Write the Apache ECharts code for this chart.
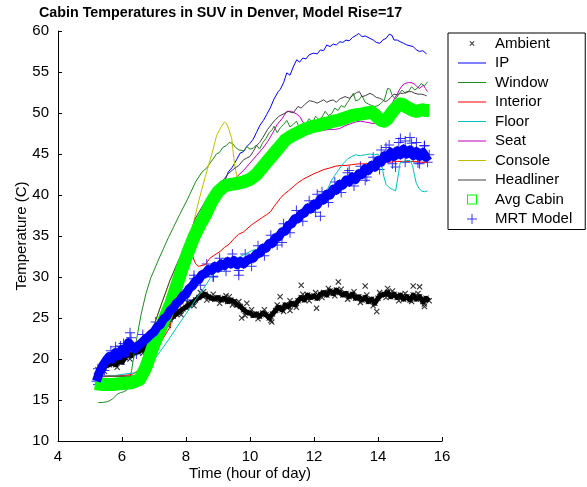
<!DOCTYPE html>
<html><head><meta charset="utf-8">
<script src="https://cdn.jsdelivr.net/npm/echarts@6/dist/echarts.min.js"></script>
<style>html,body{margin:0;padding:0;background:#fff}#c{width:587px;height:487px}</style>
</head><body><div id="c"></div>
<script>
// sample times (hour of day) for the marker series
const sampleH = [5.2,5.3,5.4,5.5,5.6,5.7,5.8,5.9,6.0,6.1,6.2,6.3,6.4,6.5,6.6,6.7,6.8,6.9,7.0,7.1,7.2,7.3,7.4,7.5,7.6,7.7,7.8,7.9,8.0,8.1,8.2,8.3,8.4,8.5,8.6,8.7,8.8,8.9,9.0,9.1,9.2,9.3,9.4,9.5,9.6,9.7,9.8,9.9,10.0,10.1,10.2,10.3,10.4,10.5,10.6,10.7,10.8,10.9,11.0,11.1,11.2,11.3,11.4,11.5,11.6,11.7,11.8,11.9,12.0,12.1,12.2,12.3,12.4,12.5,12.6,12.7,12.8,12.9,13.0,13.1,13.2,13.3,13.4,13.5,13.6,13.7,13.8,13.9,14.0,14.1,14.2,14.3,14.4,14.5,14.6,14.7,14.8,14.9,15.0,15.1,15.2,15.3,15.4,15.5,15.6];

const ambT = [18.0,18.3,18.8,19.2,19.3,19.5,19.3,19.8,19.6,20.2,20.6,20.4,20.8,20.9,21.1,21.2,21.6,22.0,22.5,22.9,23.4,23.9,24.5,24.8,25.2,25.5,25.8,26.1,26.3,26.6,26.9,27.2,27.5,27.7,27.9,27.6,27.4,27.3,27.5,27.2,27.4,27.0,27.2,27.0,26.6,26.4,26.0,25.7,25.6,25.3,25.5,25.2,25.6,25.4,25.0,25.5,25.9,26.3,26.0,26.6,26.4,26.8,26.6,27.1,27.5,27.2,27.8,27.5,27.7,27.4,27.9,28.1,27.8,28.3,28.0,28.4,28.1,27.8,28.0,27.6,27.9,27.4,27.6,27.2,27.5,27.0,27.3,26.8,27.4,27.8,27.9,28.1,27.6,27.9,27.5,27.8,27.3,27.6,27.2,27.8,27.3,27.6,27.0,27.4,27.1];
const amb2H = [5.25,5.45,5.65,5.85,6.05,6.25,6.45,6.65,6.85,7.05,7.25,7.45,7.65,7.85,8.05,8.25,8.45,8.65,8.85,9.05,9.25,9.45,9.65,9.85,10.05,10.25,10.45,10.65,10.85,11.05,11.25,11.45,11.65,11.85,12.05,12.25,12.45,12.65,12.85,13.05,13.25,13.45,13.65,13.85,14.05,14.25,14.45,14.65,14.85,15.05,15.25,15.45];
const amb2T = [18.7,18.5,19.9,19.0,20.4,20.0,21.3,20.7,22.3,22.2,24.1,24.1,25.8,25.4,26.9,26.5,28.1,27.2,27.9,26.8,27.7,26.6,27.0,25.3,26.0,24.9,26.0,24.7,26.6,25.8,27.1,26.3,27.9,27.1,28.1,27.5,28.6,27.7,28.5,27.3,28.2,26.9,27.8,26.5,28.1,27.5,28.3,27.1,28.0,27.0,28.0,26.7];
const ambXH = [11.6,12.76,13.6,15.1,15.3,12.08,9.74,10.68,10.94,9.9,13.96,8.55,9.35,11.25,14.3,15.45];
const ambXT = [29.0,29.4,28.9,28.9,28.8,26.2,25.0,24.5,27.6,26.8,25.8,28.2,27.6,25.9,28.6,26.4];

const mrtT = [17.3,18.4,19.2,19.8,20.3,20.0,20.8,20.4,21.2,20.7,22.0,21.6,21.2,21.6,21.9,22.3,22.6,23.0,23.3,23.9,24.2,24.9,25.2,25.9,26.2,26.8,27.1,27.7,27.9,28.6,28.9,29.5,29.7,30.3,30.4,30.9,30.8,31.3,31.1,31.6,31.4,31.9,31.6,32.0,31.5,31.9,31.6,32.0,32.2,32.3,32.8,32.9,33.5,33.5,34.1,34.1,34.8,34.9,35.5,35.6,36.3,36.5,37.1,37.1,37.7,37.8,38.4,38.3,38.9,38.8,39.5,39.4,40.1,40.0,40.7,40.6,41.3,41.2,41.8,41.6,42.2,41.9,42.6,42.5,43.2,43.0,43.6,43.4,44.2,44.0,44.8,44.5,45.2,44.7,45.4,44.9,45.6,45.0,45.5,44.8,45.3,44.7,45.2,44.6,44.9];
const mrt2H = [5.25,5.45,5.65,5.85,6.05,6.45,6.65,6.85,7.05,7.25,7.45,7.65,7.85,8.05,8.25,8.45,8.65,8.85,9.05,9.25,9.45,9.65,9.85,10.05,10.25,10.45,10.65,10.85,11.05,11.25,11.45,11.65,11.85,12.05,12.25,12.45,12.65,12.85,13.05,13.25,13.45,13.65,13.85,14.05,14.25,14.45,14.65,14.85,15.05,15.25,15.45];
const mrt2T = [18.8,18.6,21.0,19.8,21.9,20.6,23.0,21.9,24.5,23.6,26.5,25.5,28.4,27.2,30.2,29.0,31.6,30.1,32.3,30.7,32.8,30.8,32.8,31.3,33.8,32.6,35.1,33.9,36.5,35.4,38.1,36.8,39.3,37.9,40.4,39.1,41.6,40.3,42.7,41.1,43.5,42.2,44.6,43.1,45.8,43.8,46.4,44.0,46.3,43.9,46.0];
const mrtXH = [5.25,5.35,5.8,6.25,6.28,9.65,12.2,12.1,13.1,14.35,14.55,14.85,15.0,15.2,15.3,15.45,15.55,14.1,14.7,13.6,11.0,8.25,8.85,5.95,6.05];
const mrtXT = [16.9,17.6,21.5,23.2,22.6,30.2,37.4,40.1,43.0,46.1,43.4,46.6,47.0,46.4,43.8,46.0,44.0,45.5,46.9,41.8,34.2,29.8,30.0,21.6,19.9];

const ipH = [5.2,5.8,6.3,6.55,6.75,6.95,7.2,7.53,7.86,8.25,8.6,8.9,9.1,9.22,9.32,9.45,9.58,9.69,9.8,9.9,10.0,10.1,10.2,10.31,10.42,10.52,10.63,10.75,10.88,10.95,11.05,11.15,11.25,11.35,11.46,11.55,11.65,11.75,11.85,11.98,12.1,12.2,12.3,12.4,12.5,12.6,12.7,12.81,12.9,13.0,13.1,13.2,13.33,13.4,13.5,13.6,13.75,13.85,13.95,14.06,14.15,14.25,14.35,14.43,14.5,14.6,14.69,14.8,14.9,15.0,15.1,15.2,15.3,15.4,15.52];
const ipT = [17.9,17.9,17.9,17.8,19.1,21.3,23.8,26.9,30.8,34.9,37.9,40.1,41.2,41.8,42.8,43.4,44.3,45.1,45.3,45.9,46.3,46.8,47.6,48.5,49.1,49.8,50.6,51.7,52.6,52.9,53.7,54.9,54.6,55.6,56.5,56.2,56.7,56.6,57.1,57.3,57.2,57.7,57.6,58.3,58.1,58.4,58.3,58.7,58.6,58.9,58.8,59.2,59.5,59.7,59.3,59.4,59.1,58.9,58.6,58.5,58.9,59.1,59.6,59.5,58.9,58.9,58.7,58.5,58.3,58.2,58.1,57.7,57.5,57.6,57.2];

const winH = [5.26,5.4,5.55,5.7,5.85,5.95,6.05,6.15,6.3,6.45,6.6,6.75,6.9,7.0,7.15,7.3,7.45,7.6,7.8,8.05,8.3,8.5,8.65,8.75,8.85,8.95,9.05,9.15,9.25,9.35,9.45,9.55,9.65,9.8,9.9,10.0,10.1,10.2,10.3,10.4,10.5,10.6,10.7,10.75,10.85,10.95,11.05,11.15,11.25,11.35,11.45,11.55,11.65,11.75,11.85,11.95,12.05,12.15,12.25,12.35,12.45,12.55,12.65,12.75,12.85,12.95,13.05,13.15,13.23,13.3,13.4,13.5,13.6,13.7,13.8,13.9,14.0,14.1,14.2,14.3,14.375,14.45,14.55,14.65,14.75,14.85,14.95,15.05,15.15,15.25,15.35,15.45,15.55];
const winT = [14.7,14.7,14.8,15.1,15.7,15.9,16.0,16.2,18.6,22.3,25.5,28.0,29.9,30.8,32.2,33.5,34.8,36.0,37.6,39.5,41.6,42.8,43.3,43.9,44.4,45.0,45.2,45.8,46.0,46.4,46.3,45.8,45.5,45.4,45.9,45.6,45.7,46.1,45.6,46.4,46.9,47.6,48.0,48.4,47.6,48.2,48.6,49.1,48.3,48.6,49.0,48.2,48.0,48.7,49.3,48.8,49.6,49.2,49.5,50.2,49.7,49.9,50.6,50.3,50.9,50.7,51.3,51.9,52.4,51.5,51.6,52.1,51.3,51.1,50.9,50.8,50.9,51.2,51.6,53.0,52.9,52.1,51.7,52.3,52.8,52.4,52.6,53.2,52.8,53.1,53.6,53.3,53.8];

const intH = [5.2,5.8,6.3,6.6,6.875,7.19,7.5,7.7,7.9,8.1,8.2,8.3,8.38,8.5,8.6,8.75,8.9,9.06,9.2,9.35,9.48,9.64,9.8,10.0,10.1,10.25,10.4,10.52,10.65,10.75,10.83,10.95,11.04,11.2,11.35,11.5,11.65,11.8,12.0,12.13,12.3,12.5,12.66,12.85,13.0,13.18,13.4,13.6,13.8,14.0,14.2,14.4,14.6,14.8,15.0,15.16,15.35,15.55];
const intT = [17.8,17.9,18.1,18.8,19.9,21.9,23.9,27.5,29.5,32.0,32.6,31.6,31.3,31.4,31.5,32.3,32.7,33.1,33.6,34.0,34.6,35.2,35.5,36.2,36.5,36.9,37.3,37.6,38.0,38.6,39.0,39.6,40.0,40.5,41.0,41.5,41.9,42.2,42.6,42.8,43.1,43.3,43.5,43.6,43.6,43.7,43.8,43.8,43.9,44.0,44.0,44.0,44.1,44.1,44.1,44.1,44.0,44.0];

const floorH = [5.2,5.5,5.8,6.15,6.4,6.6,6.9,7.19,7.5,7.7,8.0,8.33,8.55,8.75,9.0,9.3,9.6,9.8,10.1,10.4,10.7,11.0,11.3,11.6,11.9,12.2,12.4,12.55,12.65,12.76,12.9,13.05,13.18,13.3,13.45,13.6,13.75,13.9,14.0,14.06,14.12,14.18,14.25,14.35,14.45,14.55,14.6,14.64,14.69,14.8,14.9,15.0,15.08,15.14,15.2,15.28,15.36,15.45,15.55];
const floorT = [17.8,17.9,18.0,18.2,18.3,18.6,19.4,20.9,22.6,23.8,25.5,27.4,28.6,29.8,30.9,31.7,32.3,32.7,33.3,33.4,34.1,35.4,36.6,37.6,38.4,39.4,40.5,41.8,42.4,43.0,43.8,44.4,44.7,44.9,44.8,44.9,45.0,44.9,45.0,44.6,43.6,42.3,41.3,40.9,40.7,40.5,40.5,42.6,43.9,44.1,44.2,44.2,43.6,42.4,41.4,40.8,40.5,40.4,40.5];

const seatH = [5.2,5.8,6.3,6.55,6.75,6.95,7.2,7.53,7.86,8.25,8.6,8.9,9.2,9.4,9.58,9.8,10.0,10.2,10.4,10.55,10.7,10.85,11.0,11.15,11.3,11.45,11.55,11.65,11.75,11.9,12.1,12.3,12.5,12.65,12.8,13.0,13.15,13.3,13.45,13.6,13.75,13.85,13.95,14.05,14.15,14.27,14.37,14.45,14.52,14.6,14.68,14.75,14.84,14.95,15.05,15.15,15.22,15.3,15.36,15.42,15.48,15.55];
const seatT = [17.9,17.9,17.9,17.8,19.1,21.3,23.8,26.9,30.8,34.9,38.3,40.3,41.3,41.5,42.2,43.0,43.9,44.8,45.7,46.5,47.5,48.6,49.3,50.2,50.2,49.9,49.6,48.9,48.5,48.2,48.0,47.9,48.0,48.0,48.1,48.5,48.7,48.9,49.0,48.9,48.8,48.7,48.8,49.0,49.3,50.0,50.6,51.2,51.8,52.3,52.9,53.3,53.6,53.7,53.7,53.5,53.2,53.0,53.2,53.4,53.0,52.6];

const conH = [5.2,5.8,6.3,6.6,6.8,6.98,7.5,8.02,8.23,8.4,8.6,8.8,8.96,9.1,9.2,9.27,9.33,9.38,9.43,9.48,9.53,9.6,9.7];
const conT = [17.9,17.9,17.9,18.2,21.5,23.9,29.6,34.1,36.5,39.3,42.2,44.9,47.3,48.3,48.9,48.7,48.1,48.2,46.9,45.0,43.4,42.2,41.8];

const headH = [5.2,5.8,6.3,6.6,6.8,6.98,7.25,7.5,7.75,8.02,8.3,8.6,8.75,8.9,9.06,9.2,9.32,9.5,9.65,9.8,9.9,10.0,10.1,10.2,10.3,10.4,10.55,10.73,10.9,11.1,11.2,11.35,11.5,11.6,11.7,11.85,11.98,12.1,12.2,12.3,12.4,12.5,12.6,12.7,12.8,12.97,13.1,13.2,13.33,13.42,13.5,13.6,13.75,13.85,13.95,14.05,14.15,14.22,14.3,14.4,14.5,14.6,14.7,14.8,14.9,15.05,15.15,15.25,15.35,15.45,15.52];
const headT = [17.9,17.9,17.9,18.2,21.5,23.9,26.9,29.6,31.9,34.1,37.2,39.2,39.9,40.6,41.4,42.0,42.6,43.2,43.6,44.3,44.5,44.7,45.3,46.0,46.4,47.0,48.0,48.9,49.6,50.0,50.2,50.0,50.8,50.6,51.0,51.5,51.4,51.2,51.4,51.6,51.3,51.5,51.6,51.3,51.7,52.0,51.8,52.1,52.5,52.6,52.0,52.1,52.4,52.2,51.9,51.8,51.6,51.4,51.5,51.9,52.3,52.2,52.4,52.4,52.6,52.6,52.4,52.3,52.3,52.2,52.1];

const avgH = [5.15,5.4,5.7,6.0,6.3,6.55,6.75,6.95,7.2,7.53,7.86,8.05,8.25,8.45,8.6,8.8,9.0,9.2,9.4,9.6,9.8,10.0,10.2,10.35,10.5,10.65,10.8,10.95,11.1,11.25,11.4,11.55,11.7,11.85,12.0,12.15,12.3,12.45,12.6,12.75,12.9,13.05,13.2,13.35,13.5,13.65,13.8,13.9,14.0,14.1,14.2,14.3,14.4,14.5,14.6,14.7,14.8,14.9,15.0,15.1,15.2,15.3,15.4,15.5,15.6];
const avgT = [17.0,16.9,16.9,17.0,17.1,17.5,19.0,21.3,23.7,26.8,30.8,32.9,34.9,36.5,37.5,39.2,40.4,41.1,41.3,41.4,41.6,41.9,42.5,43.2,43.9,44.6,45.3,46.0,46.7,47.1,47.4,47.7,48.0,48.2,48.4,48.5,48.7,48.8,49.0,49.1,49.3,49.5,49.7,49.8,49.9,50.0,50.1,49.8,49.4,49.1,49.0,49.3,49.9,50.4,50.8,51.1,51.0,50.7,50.5,50.3,50.2,50.3,50.4,50.3,50.3];

const xTicks = {min: 4, max: 16, step: 2};
const yTicks = {min: 10, max: 60, step: 5};

const zip = (h, t) => h.map((x, i) => [x, t[i]]);
const FONT = 'Liberation Sans, Arial, sans-serif';

const C = {Ambient: '#000000', IP: '#0000ff', Window: '#1f8a1f', Interior: '#ff0000', Floor: '#00bfbf',
  Seat: '#bf00bf', Console: '#bfbf00', Headliner: '#404040', 'Avg Cabin': '#00ff00', 'MRT Model': '#0000ff'};

const PLUS = 'path://M4.5,0h1v4.5h4.5v1h-4.5v4.5h-1v-4.5h-4.5v-1h4.5z';
const XMARK = 'path://M0,0.8L0.8,0L6,5.2L5.2,6Z M5.2,0L6,0.8L0.8,6L0,5.2Z';
const BB = 'M0,0h0.01v0.01h-0.01z M31.99,9.99h0.01v0.01h-0.01z ';
const iconLine = 'path://' + BB + 'M0,4.5h28v1h-28z';
const iconX = 'path://' + BB + 'M11.5,3.2L12.2,2.5L16.5,6.8L15.8,7.5Z M15.8,2.5L16.5,3.2L12.2,7.5L11.5,6.8Z';
const iconSq = 'path://' + BB + 'M9,0h10v10h-10z M10,1v8h8v-8z';
const iconPlus = 'path://' + BB + 'M13.5,0h1v4.5h4.5v1h-4.5v4.5h-1v-4.5h-4.5v-1h4.5z';

function lineS(name, h, t) {
  const color = C[name];
  return {name, type: 'line', data: zip(h, t), symbol: 'none', showSymbol: false,
    lineStyle: {color, width: 1}, itemStyle: {color}, emphasis: {disabled: true}};
}
function leg(name, icon) { return {name, icon, itemStyle: {color: C[name], borderWidth: 0}}; }

const chart = echarts.init(document.getElementById('c'), null, {renderer: 'canvas'});
chart.setOption({
  animation: false,
  backgroundColor: '#fff',
  textStyle: {fontFamily: FONT},
  title: {text: 'Cabin Temperatures in SUV in Denver, Model Rise=17', left: 39, top: 6, padding: 0,
    textStyle: {fontFamily: FONT, fontWeight: 'bold', fontSize: 14.3, color: '#000'}},
  grid: {left: 58, right: 145, top: 31, bottom: 46, containLabel: false, outerBoundsMode: 'none'},
  legend: {
    orient: 'vertical', left: 448, top: 33, padding: [3, 13, 3, 10], itemGap: 4.5,
    itemWidth: 32, itemHeight: 10, borderColor: '#000', borderWidth: 1, backgroundColor: '#fff',
    borderRadius: 0, selectedMode: false, itemStyle: {borderWidth: 0},
    textStyle: {fontFamily: FONT, fontSize: 15, lineHeight: 15, color: '#000', padding: 0},
    data: [
      leg('Ambient', iconX), leg('IP', iconLine), leg('Window', iconLine), leg('Interior', iconLine),
      leg('Floor', iconLine), leg('Seat', iconLine), leg('Console', iconLine), leg('Headliner', iconLine),
      leg('Avg Cabin', iconSq), leg('MRT Model', iconPlus)
    ]
  },
  xAxis: {type: 'value', min: xTicks.min, max: xTicks.max, interval: xTicks.step,
    name: 'Time (hour of day)', nameLocation: 'middle', nameGap: 25, nameMoveOverlap: false,
    nameTextStyle: {fontFamily: FONT, fontSize: 15, color: '#000'},
    axisLine: {show: true, onZero: false, lineStyle: {color: '#000', width: 1}},
    axisTick: {show: true, inside: true, length: 4, lineStyle: {color: '#000', width: 1}},
    axisLabel: {fontFamily: FONT, fontSize: 15, color: '#000', margin: 8},
    splitLine: {show: false}},
  yAxis: {type: 'value', min: yTicks.min, max: yTicks.max, interval: yTicks.step,
    name: 'Temperature (C)', nameLocation: 'middle', nameGap: 28.5, nameRotate: 90, nameMoveOverlap: false,
    nameTextStyle: {fontFamily: FONT, fontSize: 15, color: '#000'},
    axisLine: {show: true, onZero: false, lineStyle: {color: '#000', width: 1}},
    axisTick: {show: true, inside: true, length: 4, lineStyle: {color: '#000', width: 1}},
    axisLabel: {fontFamily: FONT, fontSize: 15, color: '#000', margin: 9},
    splitLine: {show: false}},
  series: [
    {name: 'ambBand', type: 'line', data: zip(sampleH, ambT), symbol: 'none',
      lineStyle: {color: '#000', width: 5, join: 'round'}, itemStyle: {color: '#000'}, emphasis: {disabled: true}},
    {name: 'Ambient', type: 'scatter', data: zip(sampleH, ambT).concat(zip(amb2H, amb2T), zip(ambXH, ambXT)),
      symbol: XMARK, symbolSize: 6, itemStyle: {color: '#000'}, emphasis: {disabled: true}},
    lineS('IP', ipH, ipT),
    lineS('Window', winH, winT),
    lineS('Interior', intH, intT),
    lineS('Floor', floorH, floorT),
    lineS('Seat', seatH, seatT),
    lineS('Console', conH, conT),
    lineS('Headliner', headH, headT),
    {name: 'Avg Cabin', type: 'line', data: zip(avgH, avgT), symbol: 'none',
      lineStyle: {color: '#00ff00', width: 13, join: 'round'}, itemStyle: {color: '#00ff00'}, emphasis: {disabled: true}},
    {name: 'mrtBand', type: 'line', data: zip(sampleH, mrtT), symbol: 'none',
      lineStyle: {color: '#0000ff', width: 9, join: 'round'}, itemStyle: {color: '#0000ff'}, emphasis: {disabled: true}},
    {name: 'MRT Model', type: 'scatter', data: zip(sampleH, mrtT).concat(zip(mrt2H, mrt2T), zip(mrtXH, mrtXT)),
      symbol: PLUS, symbolSize: 10, itemStyle: {color: '#0000ff'}, emphasis: {disabled: true}}
  ]
});
</script></body></html>
